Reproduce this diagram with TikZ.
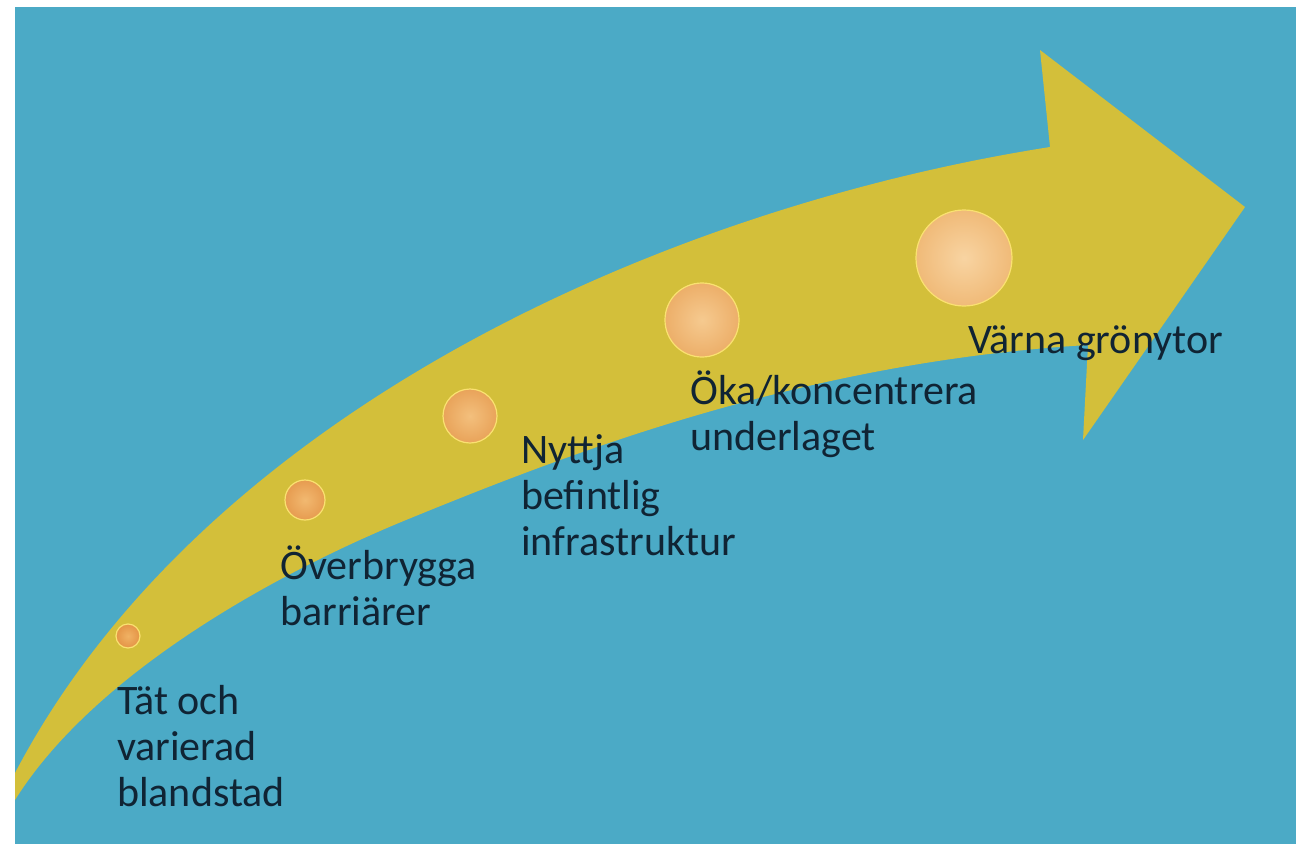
\documentclass[tikz,border=0pt]{standalone}
\usepackage{fontspec}
\setmainfont{Carlito}
\definecolor{slideblue}{RGB}{75,170,198}
\definecolor{arrowyellow}{RGB}{211,191,58}
\definecolor{textdark}{RGB}{16,36,52}
\definecolor{ballhot}{RGB}{240,178,100}
\definecolor{ballhotedge}{RGB}{228,148,70}
\definecolor{ballpale}{RGB}{248,212,162}
\definecolor{ballpaleedge}{RGB}{240,186,120}

\begin{document}
\begin{tikzpicture}[x=1pt, y=-1pt,
  stagetext/.style={anchor=base west, align=left, inner sep=0pt, text=textdark,
    font=\fontsize{42}{46}\selectfont},
  stageball/.style={circle, inner sep=0pt, shading=radial, draw=ballpale!70!yellow,
    line width=1.2pt}]
  % White page with the blue slide on it
  \useasboundingbox (0,0) rectangle (1296,846);
  \fill[white] (0,0) rectangle (1296,846);
  \fill[slideblue] (15,7) rectangle (1296,844);
  % Curved arrow: upper edge, head, then lower edge back to the tail
  \fill[arrowyellow]
    (15,773) .. controls (200,420) and (650,210) .. (1050,147)
    -- (1040,50) -- (1245,207) -- (1083,440) -- (1088,345)
    .. controls (800,362) and (560,457) .. (406,520)
    .. controls (260,580) and (90,680) .. (15,800)
    -- cycle;
  % Balls growing along the arrow
  \foreach \n/\x/\y/\d/\t in {b1/128/636/24/0, b2/305/500/40/20,
      b3/470/416/54/40, b4/702/320/74/70, b5/964/258/96/100} {
    \node[stageball, minimum size=\d, inner color=ballpale!\t!ballhot,
      outer color=ballpaleedge!\t!ballhotedge] (\n) at (\x,\y) {};
  }
  % Stage texts (base anchor sits on the last line)
  \node[stagetext] (tat) at (117,806) {Tät och\\varierad\\blandstad};
  \node[stagetext] (overbrygga) at (280,625) {Överbrygga\\barriärer};
  \node[stagetext] (nyttja) at (521,555) {Nyttja\\befintlig\\infrastruktur};
  \node[stagetext] (oka) at (690,450) {Öka/koncentrera\\underlaget};
  \node[stagetext] (varna) at (968,353) {Värna grönytor};
\end{tikzpicture}
\end{document}
